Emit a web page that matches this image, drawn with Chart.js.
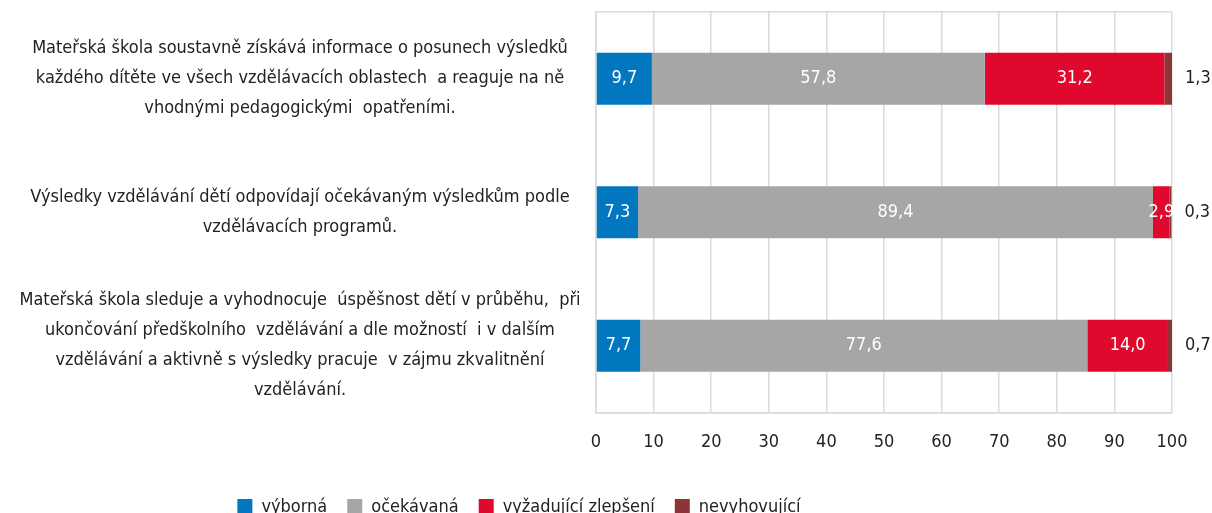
<!DOCTYPE html>
<html lang="cs">
<head>
<meta charset="utf-8">
<script src="https://cdn.jsdelivr.net/npm/chart.js@4"></script>
<style>
  html, body { margin: 0; padding: 0; background: #fff; }
  #obal { width: 1212px; height: 513px; }
</style>
</head>
<body>
<div id="obal"><canvas id="graf"></canvas></div>
<script>
// Data
const kategorie = [
    ["Mateřská škola soustavně získává informace o posunech výsledků",
     "každého dítěte ve všech vzdělávacích oblastech  a reaguje na ně",
     "vhodnými pedagogickými  opatřeními."],
    ["Výsledky vzdělávání dětí odpovídají očekávaným výsledkům podle",
     "vzdělávacích programů."],
    ["Mateřská škola sleduje a vyhodnocuje  úspěšnost dětí v průběhu,  při",
     "ukončování předškolního  vzdělávání a dle možností  i v dalším",
     "vzdělávání a aktivně s výsledky pracuje  v zájmu zkvalitnění",
     "vzdělávání."]
];
const nazvyRad = ["výborná", "očekávaná", "vyžadující zlepšení", "nevyhovující"];
const vyborna = [9.7, 7.3, 7.7];
const ocekavana = [57.8, 89.4, 77.6];
const vyzadujici = [31.2, 2.9, 14.0];
const nevyhovujici = [1.3, 0.3, 0.7];
const ticksX = [0, 10, 20, 30, 40, 50, 60, 70, 80, 90, 100];

const barvy = ["#0077bf", "#a6a6a6", "#e0082d", "#8b3539"];
const mrizka = "#dadada";
const mereni = document.createElement("canvas").getContext("2d");

// Najít nějaké úzké písmo (předloha má zúžené písmo)
function sirka(font) {
    mereni.font = font;
    return mereni.measureText("Mateřská škola 0123456789 výborná").width;
}
function vyberPismo() {
    const kandidati = [
        ["'Liberation Sans Narrow'", ""],
        ["'DejaVu Sans Condensed'", ""],
        ["'Noto Sans Condensed'", ""],
        ["'Roboto Condensed'", ""],
        ["'Open Sans Condensed'", ""],
        ["'Noto Sans'", "condensed"],
        ["'Open Sans'", "condensed"],
        ["'Roboto'", "condensed"],
        ["'DejaVu Sans'", "condensed"],
        ["'Liberation Sans'", "condensed"]
    ];
    for (const [rodina, stretch] of kandidati) {
        if (stretch) {
            const normal = sirka("40px " + rodina + ", monospace");
            const uzke = sirka(stretch + " 40px " + rodina + ", monospace");
            if (uzke < normal - 1 && normal !== sirka("40px monospace")) return { rodina, stretch };
        } else {
            if (sirka("40px " + rodina + ", monospace") !== sirka("40px monospace")) return { rodina, stretch };
        }
    }
    return { rodina: "'Noto Sans'", stretch: "" };
}
const vybrane = vyberPismo();
const pismo = vybrane.rodina + ", 'Noto Sans', sans-serif";
const stretch = vybrane.stretch || undefined;

// Velikost písma podle šířky nejdelšího řádku (v předloze cca 568 px)
function nejsirsiRadek(velikost) {
    mereni.font = (stretch ? stretch + " " : "") + velikost + "px " + pismo;
    let w = 0;
    kategorie.forEach(k => k.forEach(r => { w = Math.max(w, mereni.measureText(r).width); }));
    return w;
}
const velikost = Math.max(16, Math.min(21, Math.round(20 * 568 / nejsirsiRadek(20) * 2) / 2));
const nejsirsi = nejsirsiRadek(velikost);
const osaSirka = 596;
const stredPopisku = 300;
const odsazeniPopisku = osaSirka - stredPopisku - nejsirsi / 2;
const font = { family: pismo, size: velikost, weight: stretch };

// Popisky hodnot
const popiskyHodnot = {
    id: "popiskyHodnot",
    afterDatasetsDraw(chart) {
        const ctx = chart.ctx;
        ctx.save();
        ctx.font = (stretch ? stretch + " " : "") + velikost + "px " + pismo;
        ctx.textBaseline = "middle";
        chart.data.datasets.forEach((ds, i) => {
            const meta = chart.getDatasetMeta(i);
            meta.data.forEach((bar, j) => {
                const text = ds.data[j].toFixed(1).replace(".", ",");
                if (i === chart.data.datasets.length - 1) {
                    ctx.fillStyle = "#222";
                    ctx.textAlign = "left";
                    ctx.fillText(text, bar.x + 13, bar.y);
                } else {
                    ctx.fillStyle = "#fff";
                    ctx.textAlign = "center";
                    ctx.fillText(text, (bar.x + bar.base) / 2, bar.y);
                }
            });
        });
        ctx.restore();
    }
};

// Legenda posunutá doleva jako v předloze
const posunLegendy = {
    id: "posunLegendy",
    afterLayout(chart) {
        const lg = chart.legend;
        lg.left = 0;
        lg.right = 1038;
    }
};

new Chart(document.getElementById("graf"), {
    type: "bar",
    data: {
        labels: kategorie,
        datasets: [
            { label: nazvyRad[0], data: vyborna, backgroundColor: barvy[0] },
            { label: nazvyRad[1], data: ocekavana, backgroundColor: barvy[1] },
            { label: nazvyRad[2], data: vyzadujici, backgroundColor: barvy[2] },
            { label: nazvyRad[3], data: nevyhovujici, backgroundColor: barvy[3] }
        ]
    },
    options: {
        indexAxis: "y",
        responsive: true,
        maintainAspectRatio: false,
        animation: false,
        barPercentage: 0.39,
        categoryPercentage: 1,
        layout: { padding: { top: 12, right: 40, left: 0, bottom: -13 } },
        scales: {
            x: {
                stacked: true,
                min: 0,
                max: 100,
                afterBuildTicks: s => { s.ticks = ticksX.map(v => ({ value: v })); },
                afterFit: s => { s.height += 6; },
                grid: { color: mrizka, lineWidth: 1.5, drawTicks: false },
                border: { color: mrizka, width: 1.5 },
                ticks: { color: "#222", font: font, padding: 19 }
            },
            y: {
                stacked: true,
                afterFit: s => {
                    s.width = osaSirka;
                    s.paddingTop = 0;
                    s.paddingBottom = 0;
                },
                grid: {
                    color: c => (c.index > 0 ? "rgba(0,0,0,0)" : mrizka),
                    lineWidth: 1.5,
                    drawTicks: false
                },
                border: { color: mrizka, width: 1.5 },
                ticks: {
                    color: "#222",
                    crossAlign: "center",
                    padding: odsazeniPopisku,
                    font: { family: pismo, size: velikost, weight: stretch, lineHeight: 30 / velikost }
                }
            }
        },
        plugins: {
            legend: {
                position: "bottom",
                labels: {
                    boxWidth: 15,
                    boxHeight: 16,
                    padding: 20,
                    color: "#222",
                    font: font
                }
            },
            tooltip: { enabled: false }
        }
    },
    plugins: [popiskyHodnot, posunLegendy]
});
</script>
</body>
</html>
